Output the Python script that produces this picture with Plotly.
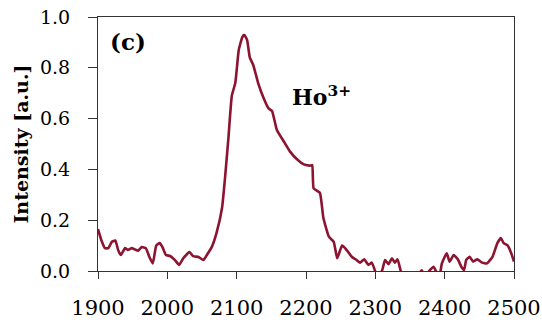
import plotly.graph_objects as go

# Emission spectrum of Ho3+ (wavelength in nm vs. normalised intensity)
wavelength_nm = [
    1900, 1905, 1910, 1915, 1920, 1925, 1929, 1933, 1939, 1943, 1949, 1953,
    1958, 1963, 1969, 1974, 1979, 1984, 1989, 1993, 1998, 2004, 2011, 2017,
    2023, 2032, 2037, 2045, 2052, 2057, 2064, 2071, 2079, 2083, 2088, 2093,
    2098, 2103, 2108, 2111, 2115, 2119, 2124, 2131, 2139, 2146, 2151, 2158,
    2168, 2177, 2187, 2197, 2206, 2209, 2211, 2220, 2225, 2233, 2240, 2245,
    2252, 2257, 2266, 2273, 2278, 2284, 2290, 2295, 2300, 2303, 2310, 2314,
    2319, 2324, 2328, 2332, 2337, 2342, 2355, 2363, 2367, 2371, 2379, 2384,
    2388, 2392, 2396, 2403, 2407, 2413, 2419, 2424, 2428, 2431, 2436, 2441,
    2447, 2454, 2461, 2469, 2476, 2481, 2485, 2491, 2496, 2500,
]
intensity = [
    0.165, 0.12, 0.09, 0.09, 0.115, 0.12, 0.083, 0.063, 0.09, 0.083, 0.09, 0.085,
    0.08, 0.094, 0.09, 0.056, 0.03, 0.10, 0.11, 0.094, 0.063, 0.059, 0.043, 0.024,
    0.05, 0.075, 0.059, 0.055, 0.043, 0.063, 0.094, 0.15, 0.25, 0.36, 0.52, 0.69,
    0.74, 0.87, 0.92, 0.93, 0.91, 0.84, 0.81, 0.74, 0.68, 0.64, 0.63, 0.555,
    0.51, 0.47, 0.44, 0.42, 0.415, 0.417, 0.325, 0.308, 0.21, 0.135, 0.115, 0.05,
    0.10, 0.088, 0.056, 0.043, 0.033, 0.046, 0.024, 0.033, -0.003, -0.03, 0.004, 0.043,
    0.027, 0.05, 0.033, 0.046, -0.003, -0.03, -0.04, -0.01, 0.003, -0.02, 0.004, 0.017,
    -0.003, -0.03, 0.03, 0.07, 0.037, 0.063, 0.046, 0.017, 0.004, 0.043, 0.056, 0.037,
    0.046, 0.033, 0.03, 0.056, 0.11, 0.13, 0.11, 0.10, 0.07, 0.037,
]

x_ticks = [1900, 2000, 2100, 2200, 2300, 2400, 2500]
y_ticks = [0.0, 0.2, 0.4, 0.6, 0.8, 1.0]
y_tick_text = ["0.0", "0.2", "0.4", "0.6", "0.8", "1.0"]

FONT = "DejaVu Serif"
LINE_COLOR = "#8C1430"

fig = go.Figure()
fig.add_trace(go.Scatter(
    x=wavelength_nm, y=intensity, mode="lines",
    line=dict(color=LINE_COLOR, width=2.6, shape="spline", smoothing=0.4),
    showlegend=False, hoverinfo="skip",
))

fig.update_layout(
    width=542, height=325,
    margin=dict(l=98, r=28, t=17, b=54, autoexpand=False),
    paper_bgcolor="white", plot_bgcolor="white",
    font=dict(family=FONT, color="black"),
    xaxis=dict(
        range=[1900, 2500], tickvals=x_ticks, ticktext=[str(v) for v in x_ticks],
        showgrid=False, zeroline=False, automargin=False,
        showline=True, linecolor="#333333", linewidth=1, mirror=True,
        ticks="outside", ticklen=7, tickcolor="#333333",
        tickfont=dict(family=FONT, size=21, color="black"),
        ticklabelstandoff=11,
    ),
    yaxis=dict(
        range=[0, 1.0], tickvals=y_ticks, ticktext=y_tick_text,
        showgrid=False, zeroline=False, automargin=False,
        showline=True, linecolor="#333333", linewidth=1, mirror=True,
        ticks="outside", ticklen=9, tickcolor="#333333",
        tickfont=dict(family=FONT, size=19, color="black"),
        ticklabelstandoff=14,
        title=dict(text="Intensity [a.u.]",
                   font=dict(family=FONT, size=19, color="black", weight="bold"),
                   standoff=6),
    ),
    annotations=[
        dict(text="(c)", x=0.025, y=0.965, xref="paper", yref="paper",
             xanchor="left", yanchor="top", showarrow=False,
             font=dict(family=FONT, size=23, color="black", weight="bold")),
        dict(text="Ho<sup>3+</sup>", x=2223, y=0.69,
             xref="x", yref="y", xanchor="center", yanchor="middle",
             showarrow=False,
             font=dict(family=FONT, size=22, color="black", weight="bold")),
    ],
)

fig.write_html("out.html")
